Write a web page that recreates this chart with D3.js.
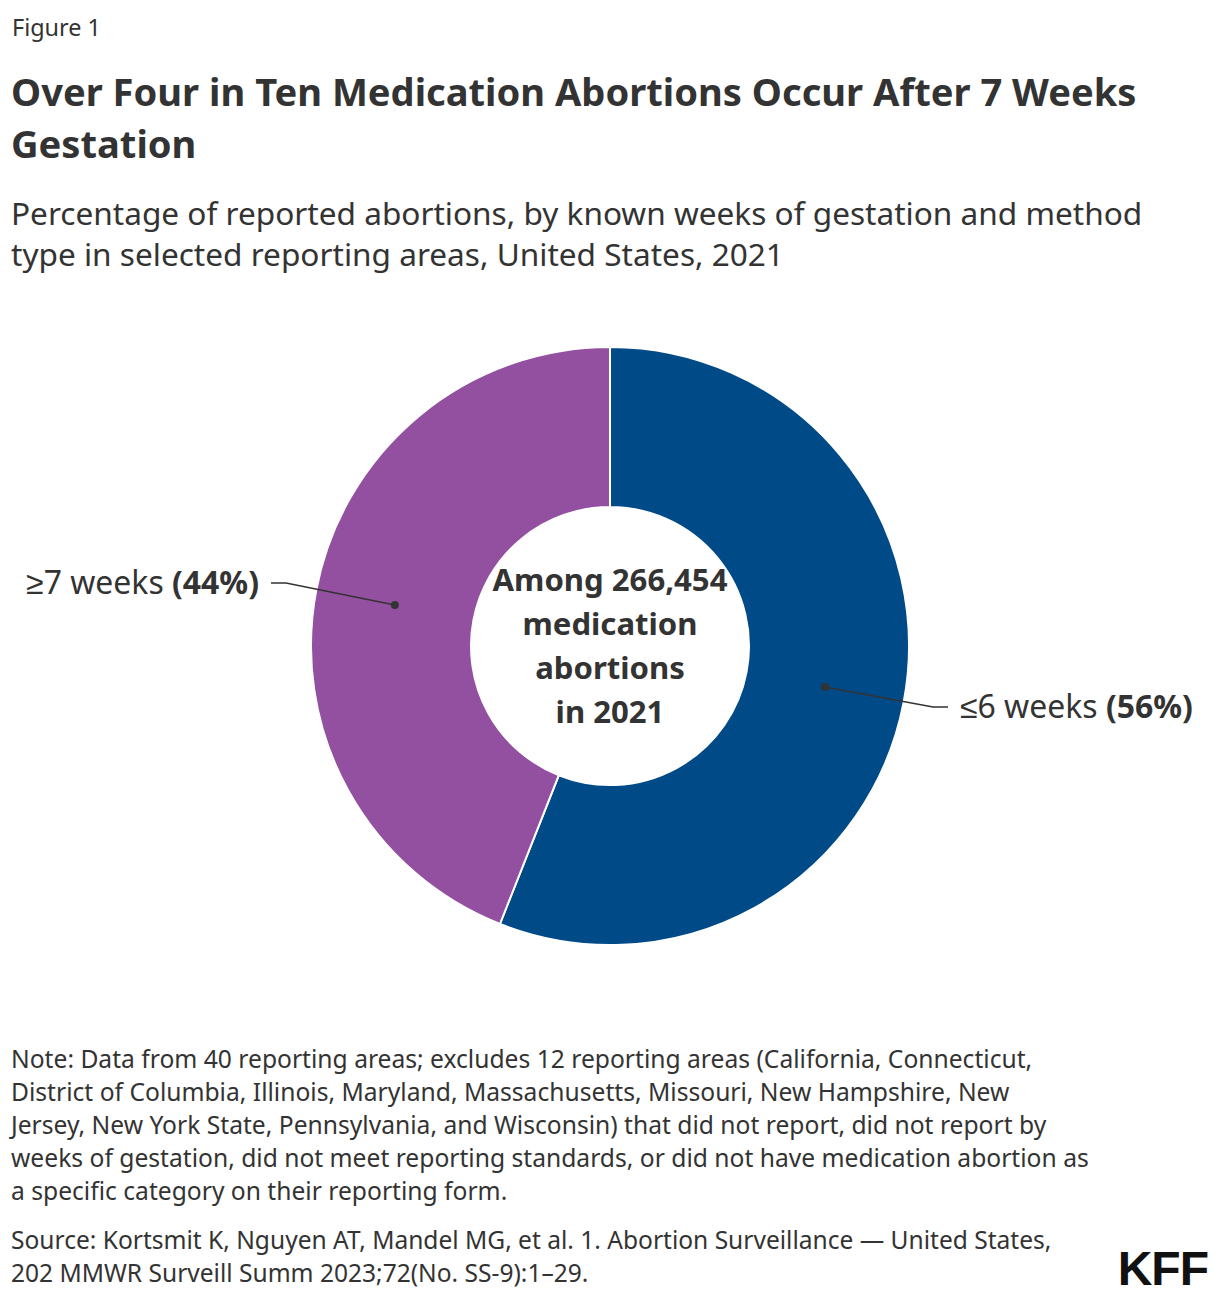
<!DOCTYPE html>
<html><head><meta charset="utf-8">
<script src="https://cdn.jsdelivr.net/npm/d3@7"></script>
<style>
html,body{margin:0;padding:0;background:#fff;}
svg{display:block;font-family:"Noto Sans",sans-serif;}
</style></head>
<body>
<svg id="chart" width="1220" height="1302"></svg>
<script>
const categories = ["≤6 weeks", "≥7 weeks"];
const values = [56, 44];
const colors = ["#004a88", "#9350a0"];
const centerLines = ["Among 266,454", "medication", "abortions", "in 2021"];
const titleLines = ["Over Four in Ten Medication Abortions Occur After 7 Weeks", "Gestation"];
const subtitleLines = ["Percentage of reported abortions, by known weeks of gestation and method", "type in selected reporting areas, United States, 2021"];
const noteLines = [
  "Note: Data from 40 reporting areas; excludes 12 reporting areas (California, Connecticut,",
  "District of Columbia, Illinois, Maryland, Massachusetts, Missouri, New Hampshire, New",
  "Jersey, New York State, Pennsylvania, and Wisconsin) that did not report, did not report by",
  "weeks of gestation, did not meet reporting standards, or did not have medication abortion as",
  "a specific category on their reporting form."
];
const sourceLines = [
  "Source: Kortsmit K, Nguyen AT, Mandel MG, et al. 1. Abortion Surveillance — United States,",
  "202 MMWR Surveill Summ 2023;72(No. SS-9):1–29."
];

const svg = d3.select("#chart");
const ink = "#333333";

// scale a block's font size so that a reference line reaches a target width
function fit(sel, refIndex, target) {
  const base = +sel.attr("font-size");
  const node = sel.nodes()[refIndex];
  const w = node.getComputedTextLength();
  sel.attr("font-size", base * target / w);
}

const fig = svg.append("text").attr("x", 12).attr("y", 36).attr("font-size", 22).attr("fill", ink).text("Figure 1");
fit(fig, 0, 89);

const title = svg.selectAll("text.title").data(titleLines).enter().append("text")
  .attr("class","title").attr("x", 11).attr("y", (d,i)=>106 + i*52)
  .attr("font-size", 37).attr("font-weight", 700).attr("fill", ink).text(d=>d);
fit(title, 0, 1126);

const sub = svg.selectAll("text.sub").data(subtitleLines).enter().append("text")
  .attr("class","sub").attr("x", 11).attr("y", (d,i)=>225 + i*41)
  .attr("font-size", 30).attr("fill", ink).text(d=>d);
fit(sub, 0, 1132);

const cx = 610, cy = 646, rOuter = 299, rInner = 139;
const pie = d3.pie().sort(null).value(d=>d.v);
const data = pie(categories.map((c,i)=>({c, v: values[i], col: colors[i]})));
const arc = d3.arc().innerRadius(rInner).outerRadius(rOuter);
const g = svg.append("g").attr("transform", `translate(${cx},${cy})`);
g.selectAll("path").data(data).enter().append("path")
  .attr("d", arc).attr("fill", d=>d.data.col)
  .attr("stroke", "#fff").attr("stroke-width", 2);

// center label
const ctr = g.selectAll("text.center").data(centerLines).enter().append("text")
  .attr("class","center").attr("x", 0).attr("y", (d,i)=>-55 + i*44)
  .attr("text-anchor","middle").attr("font-size", 31).attr("font-weight", 700)
  .attr("fill", ink).text(d=>d);
fit(ctr, 0, 235);

// leader labels
data.forEach((d) => {
  const [px, py] = arc.centroid(d);
  const mid = (d.startAngle + d.endAngle)/2;
  const right = Math.sin(mid) > 0;
  const ex = right ? 323 : -324;
  const ey = right ? 61 : -63;
  const tx = right ? 338 : -339;
  g.append("path")
    .attr("d", `M${px},${py}L${ex},${ey}L${tx},${ey}`)
    .attr("fill","none").attr("stroke", ink).attr("stroke-width", 1.5);
  g.append("circle").attr("cx", px).attr("cy", py).attr("r", 4).attr("fill", ink);
  const t = g.append("text").attr("x", right ? tx + 12 : tx - 12).attr("y", ey + 11)
    .attr("text-anchor", right ? "start" : "end").attr("font-size", 31).attr("fill", ink);
  t.append("tspan").text(d.data.c + " ");
  t.append("tspan").attr("font-weight", 700).text("(" + d.data.v + "%)");
  fit(t, 0, 233);
});

const notes = svg.selectAll("text.note").data(noteLines).enter().append("text")
  .attr("class","note").attr("x", 11).attr("y", (d,i)=>1068 + i*33)
  .attr("font-size", 22).attr("fill", ink).text(d=>d);
fit(notes, 3, 1078);
const srcs = svg.selectAll("text.src").data(sourceLines).enter().append("text")
  .attr("class","src").attr("x", 11).attr("y", (d,i)=>1249 + i*33)
  .attr("font-size", 22).attr("fill", ink).text(d=>d);
fit(srcs, 0, 1041);

svg.append("text").attr("x", 1208).attr("y", 1285).attr("text-anchor","end")
  .attr("font-family", "'Liberation Sans', Arial, sans-serif").attr("font-weight", 700)
  .attr("font-size", 48).attr("fill", "#111").attr("letter-spacing", -1).text("KFF");
</script>
</body></html>
